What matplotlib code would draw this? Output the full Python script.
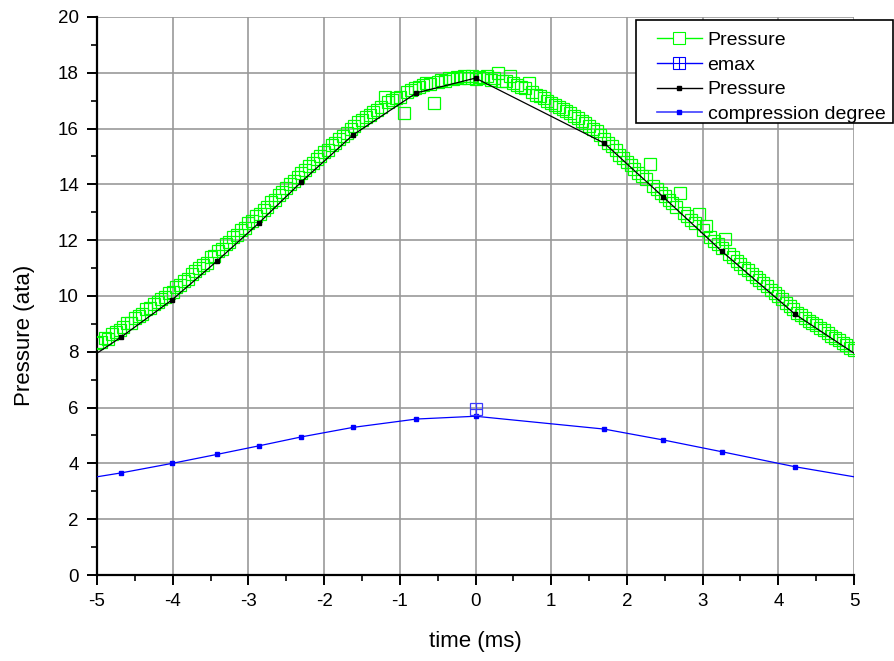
import matplotlib
matplotlib.use('Agg')
import matplotlib.pyplot as plt
from matplotlib.lines import Line2D
from matplotlib.patches import Rectangle
from matplotlib.legend_handler import HandlerTuple
from matplotlib.ticker import MultipleLocator
import numpy as np

plt.rcParams['font.family'] = ['Liberation Sans', 'DejaVu Sans']

# measured pressure (green squares), one value every 0.05 ms
meas_x = np.round(np.arange(-5.0, 5.001, 0.05), 2)
meas_y = [
    8.30, 8.35, 8.50, 8.45, 8.62, 8.70, 8.78, 8.88, 9.02, 9.05,
    9.20, 9.28, 9.35, 9.52, 9.58, 9.70, 9.78, 9.90, 9.95, 10.10,
    10.15, 10.32, 10.40, 10.55, 10.62, 10.80, 10.88, 11.00, 11.12, 11.20,
    11.38, 11.45, 11.60, 11.70, 11.85, 11.95, 12.10, 12.18, 12.35, 12.42,
    12.60, 12.68, 12.85, 12.95, 13.10, 13.20, 13.38, 13.45, 13.62, 13.72,
    13.88, 14.00, 14.12, 14.25, 14.40, 14.50, 14.65, 14.75, 14.90, 15.00,
    15.15, 15.22, 15.40, 15.48, 15.62, 15.75, 15.85, 16.00, 16.10, 16.22,
    16.30, 16.42, 16.48, 16.60, 16.65, 16.78, 17.15, 16.95, 17.02, 17.10,
    17.15, 16.55, 17.30, 17.38, 17.45, 17.50, 17.55, 17.62, 17.60, 16.90,
    17.68, 17.75, 17.70, 17.82, 17.78, 17.85, 17.80, 17.88, 17.82, 17.90,
    17.78, 17.85, 17.80, 17.88, 17.75, 17.82, 18.00, 17.72, 17.70, 17.90,
    17.62, 17.55, 17.50, 17.45, 17.62, 17.30, 17.22, 17.18, 17.10, 17.00,
    16.92, 16.85, 16.78, 16.70, 16.62, 16.55, 16.45, 16.38, 16.28, 16.20,
    16.10, 16.00, 15.90, 15.78, 15.62, 15.50, 15.38, 15.25, 15.05, 14.95,
    14.80, 14.70, 14.55, 14.42, 14.30, 14.18, 14.72, 13.95, 13.82, 13.70,
    13.60, 13.45, 13.32, 13.20, 13.68, 12.98, 12.85, 12.72, 12.60, 12.95,
    12.35, 12.52, 12.10, 11.98, 11.85, 11.72, 12.05, 11.50, 11.38, 11.25,
    11.15, 11.02, 10.92, 10.80, 10.68, 10.58, 10.45, 10.35, 10.22, 10.10,
    10.00, 9.88, 9.75, 9.65, 9.52, 9.40, 9.32, 9.22, 9.12, 9.05,
    8.95, 8.85, 8.78, 8.68, 8.58, 8.50, 8.42, 8.32, 8.25, 8.15,
    8.08,
]

# model curves (black pressure, blue compression degree)
model_x = [-5.0, -4.68, -4.01, -3.42, -2.86, -2.30, -1.62, -0.78, 0.0,
           1.70, 2.48, 3.25, 4.22, 5.0]
model_p = [7.95, 8.53, 9.86, 11.24, 12.62, 14.09, 15.77, 17.28, 17.81,
           15.48, 13.55, 11.61, 9.35, 7.95]
model_c = [3.52, 3.66, 4.00, 4.32, 4.63, 4.95, 5.29, 5.59, 5.69,
           5.23, 4.84, 4.42, 3.88, 3.52]

emax_x = [0.0]
emax_y = [5.95]

legend_labels = ['Pressure', 'emax', 'Pressure', 'compression degree']

green = '#00ff00'
blue = '#0000ff'

W, H = 894, 661
fig = plt.figure(figsize=(W / 100, H / 100), dpi=100)
ax = fig.add_axes([0.1085, 0.1301, 0.8468, 0.8442])

ax.plot(meas_x, meas_y, linestyle='none', marker='s', markersize=8.5,
        markerfacecolor='none', markeredgecolor=green, markeredgewidth=0.9,
        zorder=3)
ax.plot(model_x, model_p, color='black', lw=0.9, marker='s', markersize=3.5,
        markevery=slice(1, -1), zorder=4)
ax.plot(model_x, model_c, color=blue, lw=0.9, marker='s', markersize=3,
        markevery=slice(1, -1), zorder=4)
ax.plot(emax_x, emax_y, linestyle='none', marker='s', markersize=8.5,
        markerfacecolor='none', markeredgecolor='#3a3aff', markeredgewidth=0.9, zorder=5)
ax.plot(emax_x, emax_y, linestyle='none', marker='+', markersize=8.5,
        markeredgecolor='#3a3aff', markeredgewidth=0.9, zorder=5)

ax.set_xlim(-5, 5)
ax.set_ylim(0, 20)
ax.xaxis.set_major_locator(MultipleLocator(1))
ax.xaxis.set_minor_locator(MultipleLocator(0.5))
ax.yaxis.set_major_locator(MultipleLocator(2))
ax.yaxis.set_minor_locator(MultipleLocator(1))
ax.set_xticklabels([f'{int(v)}' for v in ax.get_xticks()])

ax.grid(True, which='major', color='#999999', lw=1.2, zorder=0)
ax.set_axisbelow(True)
for s in ['top', 'right']:
    ax.spines[s].set_visible(False)
for s in ['left', 'bottom']:
    ax.spines[s].set_linewidth(1.6)
ax.tick_params(which='major', direction='out', length=7, width=1.4, labelsize=13.5, pad=6)
ax.tick_params(which='minor', direction='out', length=4, width=1.2)

ax.set_xlabel('time (ms)', fontsize=16)
ax.xaxis.set_label_coords(0.5, -0.1)
ax.set_ylabel('Pressure (ata)', fontsize=16)
ax.yaxis.set_label_coords(-0.082, 0.43)

# legend box drawn by hand (Origin style: wide left padding)
box = Rectangle((636 / W, 1 - 123 / H), (893 - 636) / W, (123 - 20) / H,
                transform=fig.transFigure, facecolor='white', edgecolor='black',
                lw=1.2, zorder=5)
fig.add_artist(box)

h1 = Line2D([], [], color=green, lw=1, marker='s', markersize=8,
            markerfacecolor='white', markeredgecolor=green, markeredgewidth=0.8)
h2a = Line2D([], [], color=blue, lw=1, marker='s', markersize=8,
             markerfacecolor='white', markeredgecolor=blue, markeredgewidth=0.8)
h2b = Line2D([], [], color=blue, lw=0, marker='+', markersize=8,
             markeredgecolor=blue, markeredgewidth=0.8)
h3 = Line2D([], [], color='black', lw=1, marker='s', markersize=3.5)
h4 = Line2D([], [], color='#4040ff', lw=1.2, marker='s', markersize=3.5,
            markerfacecolor=blue, markeredgecolor=blue)
leg = fig.legend([h1, (h2a, h2b), h3, h4], legend_labels,
                 handler_map={tuple: HandlerTuple(ndivide=1)},
                 loc='upper left', bbox_to_anchor=(657 / W, 1 - 31.5 / H),
                 bbox_transform=fig.transFigure, fontsize=14,
                 frameon=False, borderpad=0, labelspacing=0.36, handlelength=2.3,
                 handletextpad=0.3, borderaxespad=0)
leg.set_zorder(6)

fig.savefig('out.png', dpi=100)
